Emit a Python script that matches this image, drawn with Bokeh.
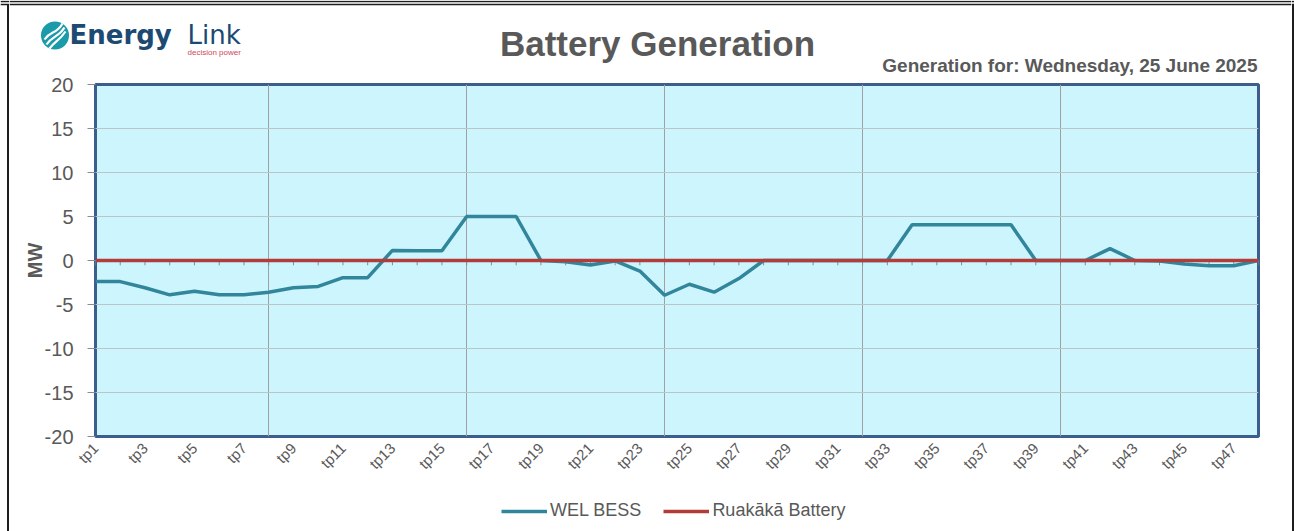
import math
from bokeh.plotting import figure
from bokeh.layouts import row, column
from bokeh.models import FixedTicker, Legend, LegendItem, ColumnDataSource, Range1d
from bokeh.core.properties import value
from bokeh.embed import file_html
from bokeh.resources import INLINE

# ---------------- data ----------------
periods = [f"tp{i}" for i in range(1, 49)]
wel_bess = [-2.4, -2.4, -3.1, -3.9, -3.5, -3.9, -3.9, -3.6, -3.1, -2.95, -1.95, -1.95,
            1.15, 1.1, 1.1, 5.0, 5.0, 5.0, 0.0, -0.15, -0.5, -0.05, -1.2, -3.95,
            -2.7, -3.6, -2.05, 0.0, 0.0, 0.0, 0.0, 0.0, 0.0, 4.05, 4.05, 4.05,
            4.05, 4.05, 0.0, 0.0, 0.0, 1.35, 0.0, -0.05, -0.4, -0.6, -0.6, 0.0]
ruakaka = [0.0, 0.0, 0.0, 0.0, 0.0, 0.0, 0.0, 0.0, 0.0, 0.0, 0.0, 0.0,
           0.0, 0.0, 0.0, 0.0, 0.0, 0.0, 0.0, 0.0, 0.0, 0.0, 0.0, 0.0,
           0.0, 0.0, 0.0, 0.0, 0.0, 0.0, 0.0, 0.0, 0.0, 0.0, 0.0, 0.0,
           0.0, 0.0, 0.0, 0.0, 0.0, 0.0, 0.0, 0.0, 0.0, 0.0, 0.0, 0.0]
y_ticks = [-20, -15, -10, -5, 0, 5, 10, 15, 20]
y_tick_labels = ["-20", "-15", "-10", "-5", "0", "5", "10", "15", "20"]
title_text = "Battery Generation"
subtitle_text = "Generation for: Wednesday, 25 June 2025"
series_names = ["WEL BESS", "Ruakākā Battery"]
series_colors = ["#31869c", "#b23c3a"]
y_label = "MW"

pos = [i + 1 for i in range(len(periods))]
src = ColumnDataSource(dict(x=pos, wel=wel_bess, rua=ruakaka, period=periods))

GREY = "#595959"
FONT = "Liberation Sans"
FRAME_BLACK = "#1e1e1e"
HEAD_H = 77
FOOT_H = 45


def bare(width, height, xr, yr):
    f = figure(width=width, height=height, x_range=xr, y_range=yr,
               x_axis_type=None, y_axis_type=None, output_backend="svg",
               toolbar_location=None, min_border=0, frame_align=False)
    f.outline_line_color = None
    f.background_fill_color = "white"
    f.border_fill_color = "white"
    f.grid.visible = False
    return f


# ---------------- side strips (page frame) ----------------
left = bare(9, 531, Range1d(0, 9), Range1d(531, 0))
left.segment(x0=[7.5], y0=[4], x1=[7.5], y1=[531], line_color=FRAME_BLACK, line_width=2)
left.segment(x0=[0, 0], y0=[1, 4], x1=[9, 9], y1=[1, 4], line_color=FRAME_BLACK, line_width=1.6)

right = bare(3, 531, Range1d(1291, 1294), Range1d(531, 0))
right.segment(x0=[1292.5], y0=[4], x1=[1292.5], y1=[531], line_color=FRAME_BLACK, line_width=2)
right.segment(x0=[1291, 1291], y0=[1, 4], x1=[1294, 1294], y1=[1, 4], line_color=FRAME_BLACK, line_width=1.6)

# ---------------- header (logo + title + subtitle) ----------------
head = bare(1282, HEAD_H, Range1d(9, 1291), Range1d(HEAD_H, 0))
head.segment(x0=[9, 9], y0=[1, 4], x1=[1291, 1291], y1=[1, 4], line_color=FRAME_BLACK, line_width=1.6)
head.scatter(x=[54.5], y=[35], size=28, marker="circle", fill_color="#1b9aaa", line_color=None)
head.bezier(x0=[44, 46, 49], y0=[39, 44, 48], x1=[62, 64, 65], y1=[23, 27, 31],
            cx0=[50, 52, 55], cy0=[30, 35, 40], cx1=[56, 58, 59], cy1=[34, 37, 40],
            line_color="white", line_width=2.2)
head.text(x=[69], y=[34], text=["Energy"], text_font=value("DejaVu Sans"),
          text_font_style="bold", text_font_size="26px", text_color="#1c4a73",
          text_baseline="alphabetic", text_align="left")
head.text(x=[187], y=[34], text=["Link"], text_font=value("DejaVu Sans"),
          text_font_size="26px", text_color="#1c4a73",
          text_baseline="alphabetic", text_align="left")
head.text(x=[187], y=[52], text=["decision power"], text_font=value(FONT),
          text_font_size="8px", text_color="#d0455a",
          text_baseline="alphabetic", text_align="left")
head.text(x=[657], y=[43], text=[title_text], text_font=value(FONT),
          text_font_style="bold", text_font_size="35px", text_color=GREY,
          text_baseline="alphabetic", text_align="center")
head.text(x=[1257], y=[65], text=[subtitle_text], text_font=value(FONT),
          text_font_style="bold", text_font_size="19px", text_color=GREY,
          text_baseline="alphabetic", text_align="right")

# ---------------- main chart ----------------
p = figure(width=1282, height=531 - HEAD_H - FOOT_H, x_range=(1, len(periods)), y_range=(-20, 20),
           output_backend="svg", toolbar_location=None, frame_align=False,
           min_border_left=86, min_border_right=33, min_border_top=84 - HEAD_H,
           min_border_bottom=531 - FOOT_H - 436)
p.background_fill_color = "#ccf5fd"
p.border_fill_color = "white"
p.outline_line_color = "#3b5e8c"
p.outline_line_width = 3

# x axis
p.xaxis.ticker = FixedTicker(ticks=pos[::2])
p.xaxis.major_label_overrides = {x: lab for x, lab in zip(pos, periods)}
p.xaxis.major_label_orientation = math.pi / 4
p.xaxis.axis_line_color = None
p.xaxis.major_tick_line_color = None
p.xaxis.minor_tick_line_color = None
p.xaxis.major_tick_out = 0
p.xaxis.major_tick_in = 0
p.xaxis.major_label_standoff = 9
p.xaxis.major_label_text_font = FONT
p.xaxis.major_label_text_font_size = "15px"
p.xaxis.major_label_text_color = GREY

# y axis
p.yaxis.ticker = FixedTicker(ticks=y_ticks)
p.yaxis.major_label_overrides = {t: s for t, s in zip(y_ticks, y_tick_labels)}
p.yaxis.axis_line_color = None
p.yaxis.major_tick_line_color = "#8c8c8c"
p.yaxis.major_tick_out = 8
p.yaxis.major_tick_in = 0
p.yaxis.minor_tick_line_color = None
p.yaxis.major_label_standoff = 14
p.yaxis.major_label_text_font = FONT
p.yaxis.major_label_text_font_size = "20px"
p.yaxis.major_label_text_color = GREY
p.yaxis.axis_label = y_label
p.yaxis.axis_label_standoff = -4
p.yaxis.axis_label_text_font = FONT
p.yaxis.axis_label_text_font_style = "bold"
p.yaxis.axis_label_text_font_size = "20px"
p.yaxis.axis_label_text_color = GREY

# grids
p.xgrid.ticker = FixedTicker(ticks=pos[7::8])
p.xgrid.grid_line_color = "#a0a0a0"
p.xgrid.grid_line_width = 1
p.ygrid.ticker = FixedTicker(ticks=y_ticks)
p.ygrid.grid_line_color = "#b8c6ca"
p.ygrid.grid_line_width = 1

# small tick marks on the zero line
p.segment(x0="x", y0=0, x1="x", y1=-0.55, source=src, line_color="#8c8c8c", line_width=1)

p.line("x", "wel", source=src, line_color=series_colors[0], line_width=3.5)
p.line("x", "rua", source=src, line_color=series_colors[1], line_width=3.5)

# ---------------- footer with legend ----------------
foot = bare(1282, FOOT_H, Range1d(9, 1291), Range1d(FOOT_H, 0))
# legend proxies kept outside the visible range of the footer
leg_r1 = foot.line(x=[-60, -50], y=[10, 10], line_color=series_colors[0], line_width=3.5)
leg_r2 = foot.line(x=[-60, -50], y=[20, 20], line_color=series_colors[1], line_width=3.5)
legend = Legend(items=[LegendItem(label=series_names[0], renderers=[leg_r1]),
                       LegendItem(label=series_names[1], renderers=[leg_r2])],
                orientation="horizontal", location=(492, 10),
                border_line_color=None, background_fill_alpha=0,
                label_text_font=FONT, label_text_font_size="18px",
                label_text_color=GREY, glyph_width=46, glyph_height=18,
                label_standoff=3, spacing=22, padding=0, margin=0)
foot.add_layout(legend)

layout = row(left, column(head, p, foot), right)
open("out.html", "w").write(file_html(layout, INLINE))
